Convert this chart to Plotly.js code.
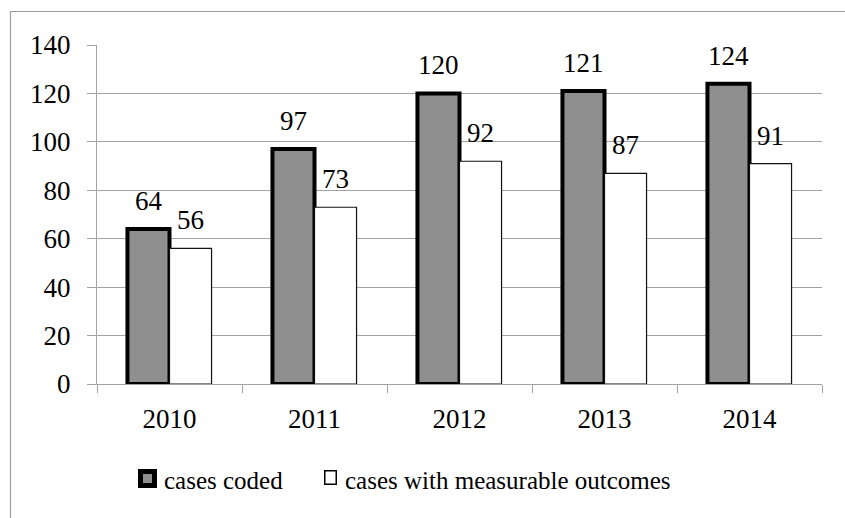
<!DOCTYPE html>
<html>
<head>
<meta charset="utf-8">
<script src="https://cdn.plot.ly/plotly-3.0.1.min.js"></script>
<style>
  html, body { margin: 0; padding: 0; background: #ffffff; }
  #chart { width: 845px; height: 518px; }
</style>
</head>
<body>
<div id="chart"></div>
<script>
// Yearly case counts
const years = ['2010', '2011', '2012', '2013', '2014'];
const casesCoded = [64, 97, 120, 121, 124];
const casesMeasurable = [56, 73, 92, 87, 91];
const seriesNames = ['cases coded', 'cases with measurable outcomes'];
const yTicks = [0, 20, 40, 60, 80, 100, 120, 140];

const FONT = 'Liberation Serif, Times New Roman, serif';
const NUM_SIZE = 27;
const GRID = '#a3a3a3';

// plot box in pixels, used to place the key below the axes
const M = { l: 97, r: 23, t: 45, b: 134 };
const W = 845, H = 518;
const PW = W - M.l - M.r, PH = H - M.t - M.b;
const px = v => (v - M.l) / PW;
const py = v => (H - M.b - v) / PH;

const seriesStyle = [
  { fill: '#8f8f8f', line: '#000000', width: 4 },
  { fill: '#ffffff', line: '#111111', width: 1.2 }
];

const traces = [
  {
    type: 'bar',
    name: seriesNames[0],
    x: years,
    y: casesCoded,
    marker: { color: seriesStyle[0].fill, line: { color: seriesStyle[0].line, width: seriesStyle[0].width } },
    hoverinfo: 'x+y'
  },
  {
    type: 'bar',
    name: seriesNames[1],
    x: years,
    y: casesMeasurable,
    marker: { color: seriesStyle[1].fill, line: { color: seriesStyle[1].line, width: seriesStyle[1].width } },
    hoverinfo: 'x+y'
  }
];

// value labels above each bar; category axis positions are given by index
const annotations = [];
years.forEach((yr, i) => {
  annotations.push({
    x: i, y: casesCoded[i], xref: 'x', yref: 'y',
    text: String(casesCoded[i]), showarrow: false,
    xanchor: 'center', yanchor: 'bottom', xshift: -21, yshift: 11,
    font: { family: FONT, size: NUM_SIZE, color: '#000000' }
  });
  annotations.push({
    x: i, y: casesMeasurable[i], xref: 'x', yref: 'y',
    text: String(casesMeasurable[i]), showarrow: false,
    xanchor: 'center', yanchor: 'bottom', xshift: 21, yshift: 11,
    font: { family: FONT, size: NUM_SIZE, color: '#000000' }
  });
});

// key: swatch + series name
const keyItems = [
  { sx0: 140.5, sx1: 154.5, sy0: 471.5, sy1: 485.5, tx: 162, lw: 5 },
  { sx0: 324.75, sx1: 336.25, sy0: 470.75, sy1: 484.25, tx: 343, lw: 1.5 }
];
const keyShapes = [];
keyItems.forEach((k, i) => {
  keyShapes.push({
    type: 'rect', xref: 'paper', yref: 'paper',
    x0: px(k.sx0), x1: px(k.sx1), y0: py(k.sy1), y1: py(k.sy0),
    fillcolor: seriesStyle[i].fill,
    line: { color: '#000000', width: k.lw }
  });
  annotations.push({
    xref: 'paper', yref: 'paper', x: px(k.tx), y: py(480),
    xanchor: 'left', yanchor: 'middle', showarrow: false,
    text: seriesNames[i],
    font: { family: FONT, size: 25, color: '#000000' }
  });
});

const layout = {
  width: W,
  height: H,
  margin: { l: M.l, r: M.r, t: M.t, b: M.b, pad: 0 },
  paper_bgcolor: '#ffffff',
  plot_bgcolor: '#ffffff',
  font: { family: FONT, size: 25, color: '#000000' },
  barmode: 'group',
  bargap: 0.42,
  bargroupgap: 0,
  showlegend: false,
  xaxis: {
    type: 'category',
    categoryorder: 'array',
    categoryarray: years,
    range: [-0.5, years.length - 0.5],
    showgrid: false,
    showline: true,
    linecolor: GRID,
    linewidth: 1,
    ticks: 'outside',
    tickson: 'boundaries',
    ticklen: 8,
    tickcolor: GRID,
    tickwidth: 1,
    tickangle: 0,
    ticklabelstandoff: 11,
    tickfont: { family: FONT, size: NUM_SIZE, color: '#000000' },
    zeroline: false,
    fixedrange: true
  },
  yaxis: {
    range: [0, 140],
    tickvals: yTicks,
    ticktext: yTicks.map(String),
    showgrid: true,
    gridcolor: GRID,
    gridwidth: 1,
    showline: true,
    linecolor: GRID,
    linewidth: 1,
    ticks: 'outside',
    ticklen: 9,
    tickcolor: GRID,
    tickwidth: 1,
    ticklabelstandoff: 11,
    tickfont: { family: FONT, size: NUM_SIZE, color: '#000000' },
    zeroline: false,
    fixedrange: true
  },
  annotations: annotations,
  shapes: [
    {
      type: 'rect', xref: 'paper', yref: 'paper',
      x0: px(10.5), x1: 1.2, y0: -1, y1: py(11.5),
      line: { color: '#a0a0a0', width: 1.2 },
      fillcolor: 'rgba(0,0,0,0)',
      layer: 'below'
    }
  ].concat(keyShapes)
};

Plotly.newPlot('chart', traces, layout, { displayModeBar: false, staticPlot: true });
</script>
</body>
</html>
